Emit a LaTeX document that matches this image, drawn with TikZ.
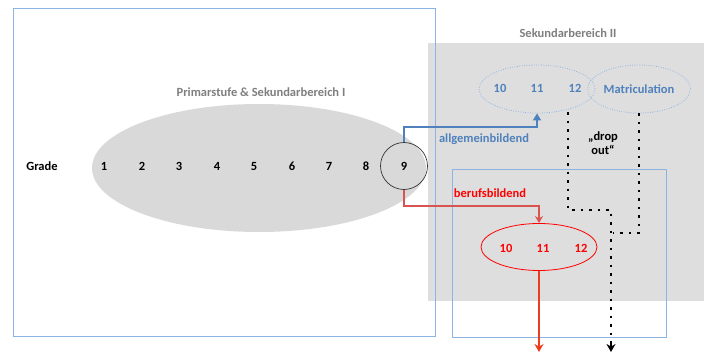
\documentclass[tikz,border=0pt]{standalone}
\usepackage{fontspec}
\setmainfont{Carlito}
\usetikzlibrary{arrows.meta,shapes.geometric}
\definecolor{boxblue}{HTML}{8DB3E2}
\definecolor{txtblue}{HTML}{4F81BD}
\definecolor{lgray}{HTML}{D9D9D9}
\definecolor{rgray}{HTML}{DEDEDE}
\definecolor{tgray}{HTML}{7F7F7F}
\definecolor{vred}{HTML}{FF0000}
\definecolor{ared}{HTML}{D9534F}
\definecolor{bred}{HTML}{F03C1E}
\begin{document}
\begin{tikzpicture}[x=1pt,y=-1pt,
  lbl/.style={font=\bfseries\fontsize{12.5}{14}\selectfont, inner sep=1pt},
  bluebox/.style={draw=boxblue, line width=0.8pt},
  dotell/.style={ellipse, draw=boxblue, line width=0.8pt, dash pattern=on 0.8pt off 1.6pt, inner sep=0pt},
  dotline/.style={line width=2.5pt, dash pattern=on 2.5pt off 6pt, black},
  bluearr/.style={draw=txtblue, line width=2pt, -{Triangle[length=7pt,width=8pt]}},
  redarr/.style={draw=ared, line width=1.6pt, -{Stealth[length=7pt,width=8pt]}},
  redarrB/.style={draw=bred, line width=2.2pt, -{Stealth[length=8pt,width=9pt]}}
]
\useasboundingbox (0,0) rectangle (704,353);
\fill[white] (0,0) rectangle (704,353);
% gray right area
\fill[rgray] (428,43) rectangle (704,301);
% left box
\draw[bluebox] (13,8) rectangle (435,336);
% right lower box
\draw[bluebox] (452,169) rectangle (666,337);
% big ellipse
\node[ellipse, fill=lgray, minimum width=334pt, minimum height=128pt, inner sep=0pt] (prim) at (259,168) {};
\node[lbl, text=tgray] (primlbl) at (261,92) {Primarstufe \& Sekundarbereich I};
\node[lbl, text=tgray] (seklbl) at (568,33) {Sekundarbereich II};
\node[lbl] (grade) at (42,166) {Grade};
\foreach \n/\x in {1/104,2/142,3/179,4/217,5/254,6/292,7/329,8/366}{
  \node[lbl] (g\n) at (\x,166) {\n};
}
\node[circle, draw=black!80, line width=0.7pt, minimum size=47pt, inner sep=0pt, lbl] (c9) at (404,166) {9};
% general secondary
\node[dotell, minimum width=116pt, minimum height=48pt] (gen) at (537,89) {};
\node[lbl, text=txtblue] (g10) at (500,88) {10};
\node[lbl, text=txtblue] (g11) at (537,88) {11};
\node[lbl, text=txtblue] (g12) at (575,88) {12};
\node[dotell, minimum width=84pt, minimum height=48pt, lbl, text=txtblue] (mat) at (639,89) {Matriculation};
% vocational
\node[ellipse, draw=vred, line width=0.8pt, minimum width=116pt, minimum height=47pt, inner sep=0pt] (voc) at (539,247) {};
\node[lbl, text=vred] (v10) at (506,248) {10};
\node[lbl, text=vred] (v11) at (543,248) {11};
\node[lbl, text=vred] (v12) at (581,248) {12};
% labels
\node[lbl, text=txtblue] (allg) at (484,139) {allgemeinbildend};
\node[lbl, text=vred] (beruf) at (490,193) {berufsbildend};
\node[lbl, align=center] (drop) at (603,143) {„drop\\ out“};
% coordinates
\coordinate (bturn) at (404,127);
\coordinate (rturn) at (404,206);
\coordinate (d1) at (568,112);
\coordinate (d1b) at (568,210);
\coordinate (d1c) at (611,210);
\coordinate (dend) at (611,352);
\coordinate (dpre) at (611,342);
\coordinate (d2b) at (639,233);
\coordinate (d2c) at (613,233);
\coordinate (rend) at (539,352);
% arrows
\draw[bluearr] (c9.north) -- (bturn) -| (gen.south);
\draw[redarr] (c9.south) -- (rturn) -| (voc.north);
\draw[redarrB] (voc.south) -- (rend);
\draw[dotline] (d1) -- (d1b) -- (d1c) -- (dpre);
\draw[line width=1.6pt, -{Stealth[length=8pt,width=9pt]}] (dpre) -- (dend);
\draw[dotline] (mat.south) -- (d2b) -- (d2c);
\end{tikzpicture}
\end{document}
